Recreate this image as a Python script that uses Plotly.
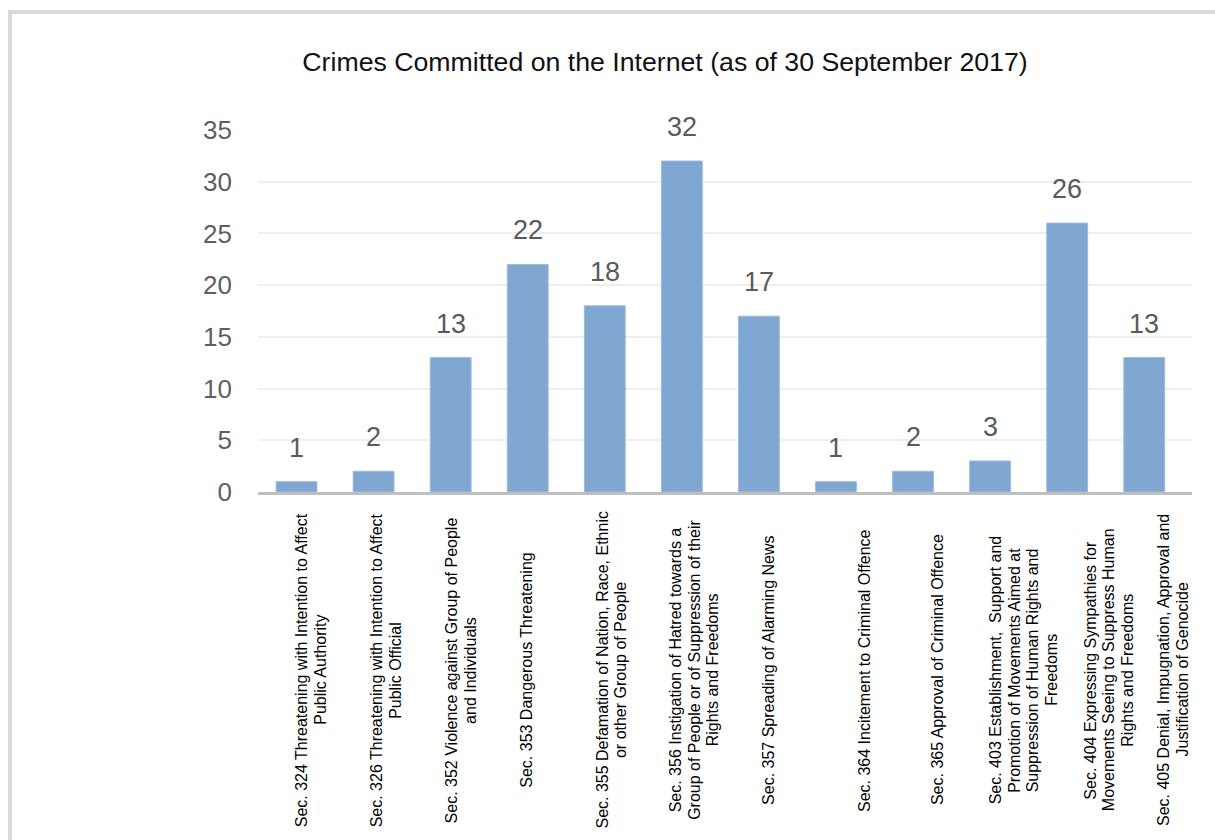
import plotly.graph_objects as go

# ---- data ----
categories = [
    "Sec. 324 Threatening with Intention to Affect<br>Public Authority",
    "Sec. 326 Threatening with Intention to Affect<br>Public Official",
    "Sec. 352 Violence against Group of People<br>and Individuals",
    "Sec. 353 Dangerous Threatening",
    "Sec. 355 Defamation of Nation, Race, Ethnic<br>or other Group of People",
    "Sec. 356 Instigation of Hatred towards a<br>Group of People or of Suppression of their<br>Rights and Freedoms",
    "Sec. 357 Spreading of Alarming News",
    "Sec. 364 Incitement to Criminal Offence",
    "Sec. 365 Approval of Criminal Offence",
    "Sec. 403 Establishment,  Support and<br>Promotion of Movements Aimed at<br>Suppression of Human Rights and<br>Freedoms",
    "Sec. 404 Expressing Sympathies for<br>Movements Seeing to Suppress Human<br>Rights and Freedoms",
    "Sec. 405 Denial, Impugnation, Approval and<br>Justification of Genocide",
]
counts = [1, 2, 13, 22, 18, 32, 17, 1, 2, 3, 26, 13]
title_text = "Crimes Committed on the Internet (as of 30 September 2017)"
y_ticks = [0, 5, 10, 15, 20, 25, 30, 35]

# ---- layout tuning (pixels) ----
W, H = 1215, 840
ML, MR, MT, MB = 258, 23, 130, 348
PW, PH = W - ML - MR, H - MT - MB
label_center_px = 670
label_shift = [14, 12, 10, -2, 6, 12, 9, 28, 24, 33, 41, 28]
line_gap = 18.5

def px_x(px):
    return (px - ML) / PW

def px_y(py):
    return (H - MB - py) / PH

cat_keys = [c.replace("<br>", " ") for c in categories]

fig = go.Figure()
fig.add_trace(go.Bar(
    x=cat_keys, y=counts,
    marker=dict(color="#80a6d2", line=dict(color="#9dbbe0", width=1)),
    hoverinfo="skip",
))

annotations = []
# value labels
for k, v in zip(cat_keys, counts):
    annotations.append(dict(
        x=k, y=v, xref="x", yref="y", text=str(v), showarrow=False,
        yanchor="middle", yshift=34,
        font=dict(family="Liberation Sans", size=27, color="#5a5a5a"),
    ))
# category labels (rotated, centered lines)
for k, lab, sh in zip(cat_keys, categories, label_shift):
    lines = lab.split("<br>")
    n = len(lines)
    for j, ln in enumerate(lines):
        annotations.append(dict(
            x=k, y=px_y(label_center_px), xref="x", yref="paper",
            text=ln, showarrow=False, textangle=-90,
            xanchor="center", yanchor="middle",
            xshift=sh + (j - (n - 1) / 2) * line_gap,
            font=dict(family="Liberation Sans", size=16, color="#000000"),
        ))

fig.update_layout(
    width=W, height=H,
    margin=dict(l=ML, r=MR, t=MT, b=MB, pad=0),
    paper_bgcolor="white", plot_bgcolor="white",
    showlegend=False,
    bargap=0.47,
    title=dict(
        text=title_text, x=665 / W, xanchor="center", xref="container",
        y=1 - 62 / H, yanchor="middle", yref="container",
        font=dict(family="Liberation Sans", size=26.7, color="#111111"),
    ),
    xaxis=dict(
        showticklabels=False, showgrid=False, zeroline=False,
        showline=True, linecolor="#bfbfbf", linewidth=3, ticks="",
        fixedrange=True,
    ),
    yaxis=dict(
        range=[0, 35], tickvals=y_ticks, showgrid=True,
        gridcolor="#eeeeee", gridwidth=1.5, zeroline=False,
        showline=False, ticks="", ticklabelstandoff=25,
        tickfont=dict(family="Liberation Sans", size=26, color="#5f5f5f"),
        fixedrange=True,
    ),
    annotations=annotations,
    shapes=[dict(
        type="rect", xref="paper", yref="paper",
        x0=px_x(10), x1=px_x(W + 40), y0=px_y(H + 40), y1=px_y(12),
        line=dict(color="#d9d9d9", width=4), fillcolor="rgba(0,0,0,0)",
        layer="below",
    )],
)

fig.write_html("out.html", config={"displayModeBar": False})
